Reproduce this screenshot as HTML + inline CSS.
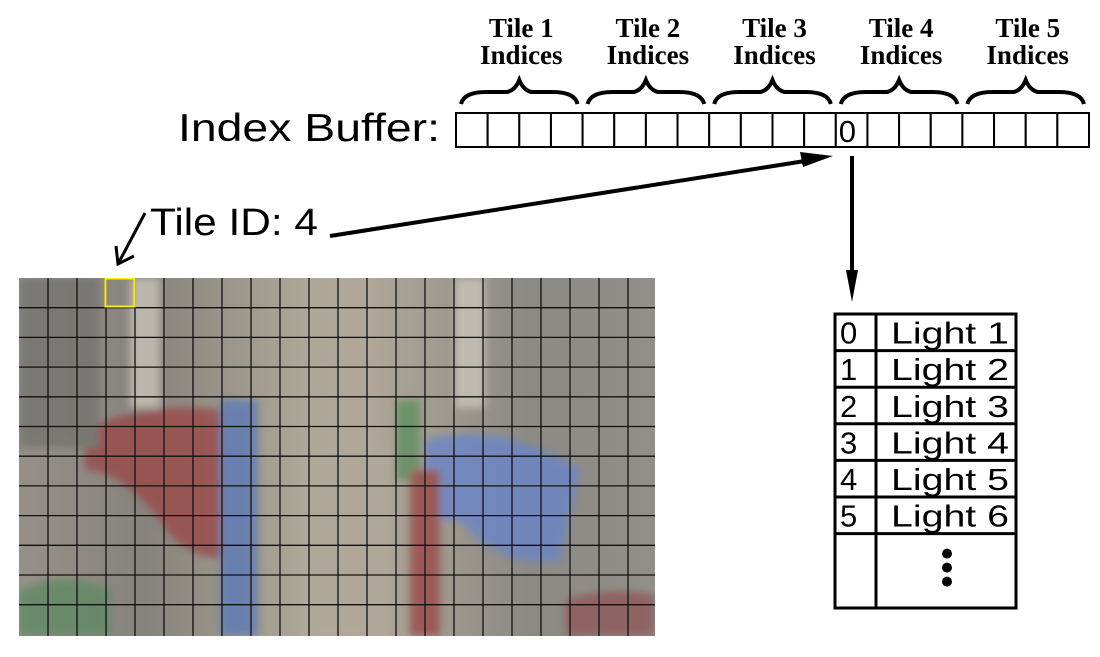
<!DOCTYPE html>
<html><head><meta charset="utf-8">
<style>
html,body{margin:0;padding:0;background:#fff;}
svg{display:block;}
.g{font-family:"Liberation Sans","DejaVu Sans",sans-serif;}
.s{font-family:"Liberation Serif","DejaVu Serif",serif;font-weight:bold;}
</style></head>
<body>
<svg id="svg" width="1100" height="657" viewBox="0 0 1100 657" xmlns="http://www.w3.org/2000/svg">
<defs>
  <linearGradient id="bg" x1="0" y1="0" x2="1" y2="0">
    <stop offset="0" stop-color="#959189"/>
    <stop offset="0.2" stop-color="#86837d"/>
    <stop offset="0.45" stop-color="#aea797"/>
    <stop offset="0.55" stop-color="#b0a798"/>
    <stop offset="0.8" stop-color="#8c8a85"/>
    <stop offset="1" stop-color="#928f8a"/>
  </linearGradient>
  <filter id="blur"><feGaussianBlur stdDeviation="4"/></filter>
  <clipPath id="imgclip"><rect x="19" y="278" width="636" height="358"/></clipPath>
</defs>

<g clip-path="url(#imgclip)">
  <rect x="19" y="278" width="636" height="358" fill="url(#bg)"/>
  <g filter="url(#blur)" opacity="0.8">
    <path d="M85 430 Q150 400 220 410 L240 560 Q180 560 160 520 Q120 470 85 470 Z" fill="#9a4a48"/>
    <rect x="220" y="400" width="38" height="236" fill="#5d7ab8"/>
    <path d="M19 590 Q70 570 110 590 L110 636 L19 636 Z" fill="#5f8a63"/>
    <path d="M425 440 Q500 420 580 470 L560 560 Q500 570 460 520 L425 520 Z" fill="#6a85c8"/>
    <rect x="396" y="400" width="24" height="80" fill="#5f8f5f"/>
    <rect x="410" y="470" width="30" height="166" fill="#9a4a48"/>
    <path d="M565 600 Q610 585 655 595 L655 636 L565 636 Z" fill="#8e5a5a"/>
    <rect x="300" y="450" width="90" height="186" fill="#b0a899"/>
    <rect x="130" y="278" width="30" height="130" fill="#c9c4b8"/>
    <rect x="455" y="278" width="30" height="130" fill="#c9c4b8"/>
    <rect x="19" y="278" width="80" height="170" fill="#75736f"/>
  </g>
  <g id="grid"></g>
  <rect x="105.5" y="278.5" width="29" height="28" fill="none" stroke="#ffee00" stroke-width="2"/>
</g>

<text x="178" y="141" font-size="39" class="g" textLength="262" lengthAdjust="spacingAndGlyphs">Index Buffer:</text>

<g id="buffer"></g>
<g id="braces"></g>

<text x="150" y="235" font-size="38" class="g" textLength="168" lengthAdjust="spacingAndGlyphs">Tile ID: 4</text>

<g stroke="#000" stroke-width="3" fill="none">
  <line x1="145" y1="213" x2="118" y2="264"/>
  <polyline points="116,246 118,264 134,256"/>
</g>
<g>
  <line x1="330" y1="236" x2="805" y2="161" stroke="#000" stroke-width="4"/>
  <polygon points="833,156 803,167 800,152" fill="#000"/>
</g>
<g>
  <line x1="852" y1="156" x2="852" y2="275" stroke="#000" stroke-width="4"/>
  <polygon points="846,270 858,270 852,302" fill="#000"/>
</g>

<g id="table"></g>
</svg>

<script>
var tileNames = ["Tile 1","Tile 2","Tile 3","Tile 4","Tile 5"];
var cellsPerTile = 4;
var bufferValues = ["","","","","","","","","","","","","0","","","","","","",""];
var tableIndices = ["0","1","2","3","4","5"];
var tableLights = ["Light 1","Light 2","Light 3","Light 4","Light 5","Light 6"];
var gridCols = 22;
var gridRows = 12;

var NS = "http://www.w3.org/2000/svg";
function mk(tag, attrs, parent){
  var e = document.createElementNS(NS, tag);
  for (var k in attrs) { e.setAttribute(k, attrs[k]); }
  parent.appendChild(e);
  return e;
}

function drawAll(){
  var g = document.getElementById('grid');
  var x0 = 19, y0 = 278, w = 636, h = 358, cw = 29, rh = 29.7;
  for (var i = 1; i < gridCols; i++) {
    var l = mk('line', {x1:x0+i*cw, y1:y0, x2:x0+i*cw, y2:y0+h, stroke:'#111', 'stroke-width':1.3}, g);
    
    
  }
  for (var j = 1; j < gridRows; j++) {
    var l2 = mk('line', {x1:x0, y1:y0+j*rh, x2:x0+w, y2:y0+j*rh, stroke:'#111', 'stroke-width':1.3}, g);
    
    
  }

  var bg = document.getElementById('buffer');
  var bx0 = 456, by0 = 113, total = 633, bh = 34, n = bufferValues.length, bcw = total / n;
  for (var a = 0; a < n; a++) {
    var r = mk('rect', {x:bx0+a*bcw, y:by0, width:bcw, height:bh, fill:'#fff', stroke:'#000', 'stroke-width':2}, bg);
    
    
    if (bufferValues[a] !== "") {
      var t = mk('text', {x:bx0+a*bcw+3, y:by0+29, 'font-size':31, 'class':'g'}, bg);
      t.textContent = bufferValues[a];
      
      
    }
  }

  var b = document.getElementById('braces');
  var gw = bcw * cellsPerTile;
  for (var k = 0; k < tileNames.length; k++) {
    var s = bx0 + k*gw + 5, e = bx0 + (k+1)*gw - 5, m = (s + e) / 2;
    var d = 'M'+s+' 104 Q'+(s+3)+' 92 '+(s+25)+' 92 L'+(m-12)+' 92 Q'+(m-4)+' 90 '+m+' 80 Q'+(m+4)+' 90 '+(m+12)+' 92 L'+(e-25)+' 92 Q'+(e-3)+' 92 '+e+' 104';
    var p = mk('path', {d:d, fill:'none', stroke:'#000', 'stroke-width':4}, b);
    
    
    var t1 = mk('text', {x:m+2, y:37, 'font-size':27, 'text-anchor':'middle', 'class':'s'}, b);
    t1.textContent = tileNames[k];
    
    
    var t2 = mk('text', {x:m+2, y:64, 'font-size':27, 'text-anchor':'middle', 'class':'s'}, b);
    t2.textContent = "Indices";
    
    
  }

  var tg = document.getElementById('table');
  var tx0 = 835, tx1 = 876, tx2 = 1016, ty0 = 314, trh = 36.6, tyb = 608;
  var tn = tableIndices.length;
  var border = mk('rect', {x:tx0, y:ty0, width:tx2-tx0, height:tyb-ty0, fill:'#fff', stroke:'#000', 'stroke-width':3}, tg);
  
  
  var v = mk('line', {x1:tx1, y1:ty0, x2:tx1, y2:tyb, stroke:'#000', 'stroke-width':3}, tg);
  
  
  for (var q = 0; q < tn; q++) {
    var y = ty0 + (q+1)*trh;
    var ln = mk('line', {x1:tx0, y1:y, x2:tx2, y2:y, stroke:'#000', 'stroke-width':3}, tg);
    
    
    var ti = mk('text', {x:tx0+5, y:y-7, 'font-size':31, 'class':'g'}, tg);
    ti.textContent = tableIndices[q];
    
    
    var tl = mk('text', {x:891, y:y-7, 'font-size':31, 'class':'g', textLength:118, lengthAdjust:'spacingAndGlyphs'}, tg);
    tl.textContent = tableLights[q];
    
    
  }
  var cx = (tx1 + tx2) / 2 + 1, yc = ty0 + tn*trh;
  var dots = [yc+20, yc+34, yc+48];
  for (var z = 0; z < dots.length; z++) {
    var c = mk('circle', {cx:cx, cy:dots[z], r:5, fill:'#000'}, tg);
    
    
  }
}

if (document.readyState === 'loading') {
  document.addEventListener('DOMContentLoaded', drawAll);
} else {
  drawAll();
}
</script>
</body></html>
